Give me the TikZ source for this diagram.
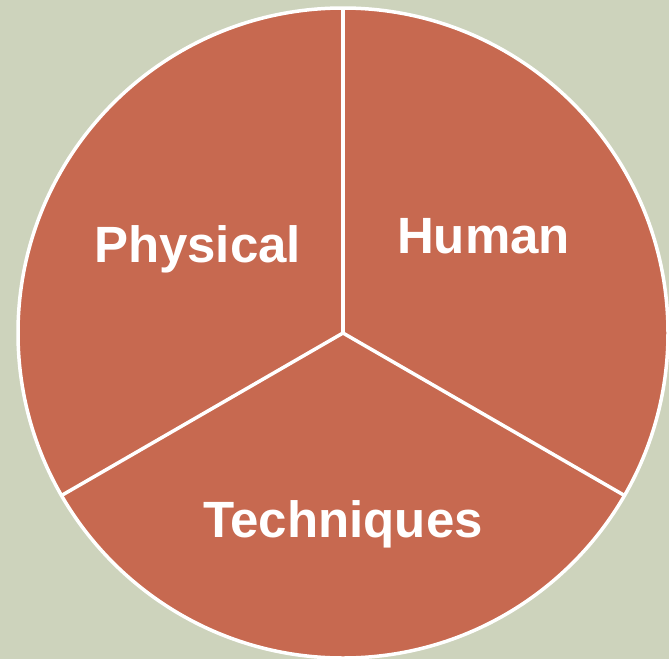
\documentclass[tikz,border=0pt]{standalone}
\usepackage{fontspec}
\setmainfont{Liberation Sans}
\usepackage{tikz}
\usetikzlibrary{positioning,calc}

\definecolor{sagebg}{RGB}{205,211,188}
\definecolor{brick}{RGB}{199,105,80}

\begin{document}
\begin{tikzpicture}[x=1pt, y=-1pt,
  slicetext/.style = {text = white, anchor = base, inner sep = 0pt, font = \fontsize{51}{60}\selectfont\bfseries},
  spoke/.style = {draw = white, line width = 3.5pt}]
\fill[sagebg] (0,0) rectangle (669,659);
\useasboundingbox (0,0) rectangle (669,659);
\coordinate (c) at (343,333);
\fill[brick] (c) circle [radius = 325];
\draw[spoke] (c) circle [radius = 325];
\coordinate (top) at ($(c)+(0,-325)$);
\coordinate (lowleft) at ($(c)+(-281.5,162.5)$);
\coordinate (lowright) at ($(c)+(281.5,162.5)$);
\draw[spoke] (c) -- (top);
\draw[spoke] (c) -- (lowleft);
\draw[spoke] (c) -- (lowright);
\node[slicetext] (physical) at (197.5,262) {Physical};
\node[slicetext] (human) at (483.5,253) {Human};
\node[slicetext] (techniques) at (343,537) {Techniques};
\end{tikzpicture}
\end{document}
